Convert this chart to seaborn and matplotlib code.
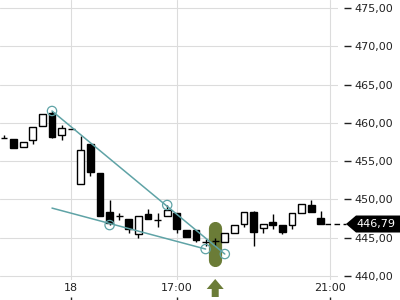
import numpy as np
import pandas as pd
import matplotlib
matplotlib.use("Agg")
import matplotlib.pyplot as plt
import seaborn as sns
from matplotlib.transforms import blended_transform_factory
from matplotlib.patches import Polygon

# ---- data ----
opens = [458.0, 457.9, 456.9, 457.7, 459.6, 461.3, 458.4, 459.2, 452.0, 457.2,
         453.5, 448.3, 447.8, 447.4, 445.5, 448.1, 447.3, 447.8, 448.2, 446.0,
         446.0, 444.45, 444.55, 444.4, 445.6, 446.8, 448.4, 446.3, 447.0, 446.6,
         446.6, 448.2, 449.3, 447.6]
highs = [458.4, 457.9, 457.5, 459.5, 461.2, 461.6, 459.7, 459.2, 458.3, 457.2,
         453.5, 449.9, 448.2, 447.4, 447.8, 448.7, 448.2, 449.3, 448.2, 446.0,
         446.0, 444.8, 444.9, 445.6, 446.7, 448.4, 448.5, 446.75, 448.1, 446.6,
         448.2, 449.4, 449.9, 448.5]
lows = [458.0, 456.7, 456.9, 457.3, 459.6, 458.0, 457.8, 459.2, 452.0, 453.1,
        447.9, 446.7, 447.3, 445.6, 445.0, 447.4, 446.4, 447.8, 445.6, 445.1,
        444.4, 443.9, 443.9, 444.4, 445.6, 446.4, 443.9, 445.6, 446.1, 445.5,
        446.1, 448.2, 448.4, 446.79]
closes = [458.0, 456.7, 457.5, 459.5, 461.2, 458.2, 459.3, 459.2, 456.5, 453.6,
          447.9, 446.9, 447.8, 446.1, 447.8, 447.4, 447.3, 448.6, 446.1, 445.1,
          444.7, 444.45, 444.55, 445.6, 446.7, 448.4, 445.7, 446.75, 446.6, 445.8,
          448.2, 449.4, 448.4, 446.79]

x_tick_pos = [7, 18, 34]
x_tick_labels = ["18", "17:00", "21:00"]
y_ticks = [440, 445, 450, 455, 460, 465, 470, 475]
y_tick_labels = ["440,00", "445,00", "450,00", "455,00", "460,00", "465,00", "470,00", "475,00"]

last_price = 446.79
last_label = "446,79"

upper_trend_x = [5, 23]
upper_trend_y = [461.55, 442.87]
upper_pts_x = [5, 17, 23]
upper_pts_y = [461.55, 449.27, 442.87]
lower_trend_x = [5, 21]
lower_trend_y = [448.87, 443.52]
lower_pts_x = [11, 21]
lower_pts_y = [446.65, 443.52]

signal_x = 22
signal_low, signal_high = 442.1, 446.3

# ---- style ----
sns.set_theme(style="white")
plt.rcParams['font.family'] = ['DejaVu Sans']

W, H = 400, 300
fig = plt.figure(figsize=(4, 3), dpi=100)
ax = fig.add_axes([0, 20 / H, 338 / W, 280 / H])

x = np.arange(len(opens))
df = pd.DataFrame({"x": x, "open": opens, "high": highs, "low": lows, "close": closes})

teal = "#5fa3a6"
olive = "#6b7c37"

# signal bar
ax.plot([signal_x, signal_x], [signal_low, signal_high], color=olive, lw=9.5,
        solid_capstyle="round", zorder=1.5)

# wicks & bodies
ax.vlines(df["x"], df["low"], df["high"], color="black", lw=1.0, zorder=2)
colors = ["white" if c > o else "black" for o, c in zip(df["open"], df["close"])]
ax.bar(df["x"], df["close"] - df["open"], bottom=df["open"], width=0.72,
       color=colors, edgecolor="black", linewidth=1.0, zorder=3)

# trend lines
sns.lineplot(x=upper_trend_x, y=upper_trend_y, ax=ax, color=teal, lw=1.1, sort=False, zorder=4)
sns.lineplot(x=lower_trend_x, y=lower_trend_y, ax=ax, color=teal, lw=1.1, sort=False, zorder=4)
sns.scatterplot(x=upper_pts_x + lower_pts_x, y=upper_pts_y + lower_pts_y, ax=ax,
                s=45, facecolor="none", edgecolor=teal, linewidth=0.9, zorder=5)

ax.set_xlim(-0.417, 34.79)
ax.set_ylim(439.48, 476.04)

# grid & axes
ax.grid(True, color="#dcdcdc", lw=0.8)
ax.set_axisbelow(True)
for s in ax.spines.values():
    s.set_visible(False)

ax.set_yticks(y_ticks, labels=y_tick_labels)
ax.yaxis.tick_right()
ax.spines["right"].set_position(("outward", 4))
ax.tick_params(axis="y", which="both", direction="out", length=5, width=1,
               color="#222222", labelsize=8, pad=3, labelcolor="#222222",
               left=False, right=True)

ax.set_xticks(x_tick_pos, labels=x_tick_labels)
ax.spines["bottom"].set_position(("outward", 12))
ax.tick_params(axis="x", direction="out", length=5, width=1, color="#222222",
               labelsize=8, pad=-15, labelcolor="#222222", bottom=True)

# last price dashed line
ax.plot([33.45, 35.6], [last_price, last_price], color="black", lw=1.0,
        ls=(0, (4, 2.5)), clip_on=False, zorder=6)

# last price label box
tr = blended_transform_factory(fig.transFigure, ax.transData)
hh = 8.5 / 7.657
poly = Polygon([(346 / W, last_price), (356 / W, last_price + hh), (1.0, last_price + hh),
                (1.0, last_price - hh), (356 / W, last_price - hh)],
               closed=True, facecolor="black", edgecolor="none", transform=tr,
               clip_on=False, zorder=10)
ax.add_patch(poly)
ax.text(376 / W, last_price, last_label, color="white", fontsize=8, ha="center",
        va="center", transform=tr, zorder=11, clip_on=False)

# signal arrow below axis
tr2 = blended_transform_factory(ax.transData, fig.transFigure)
def fy(py):
    return (H - py) / H
hw, sw = 8.5 / 9.6, 3.5 / 9.6
arrow = Polygon([(signal_x, fy(279)), (signal_x - hw, fy(289)), (signal_x - sw, fy(289)),
                 (signal_x - sw, fy(297)), (signal_x + sw, fy(297)), (signal_x + sw, fy(289)),
                 (signal_x + hw, fy(289))], closed=True, facecolor=olive, edgecolor="none",
                transform=tr2, clip_on=False, zorder=10)
ax.add_patch(arrow)

fig.savefig("out.png", dpi=100)
